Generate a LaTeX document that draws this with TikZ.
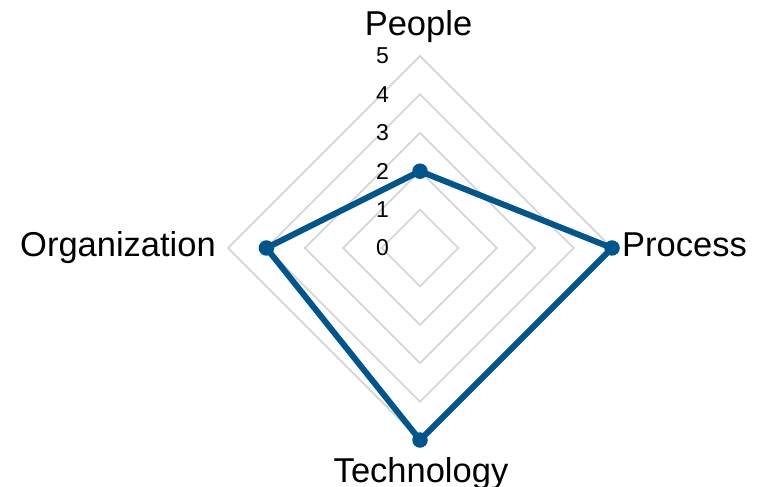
\documentclass[tikz,border=0pt]{standalone}
\usepackage{fontspec}
\setmainfont{Liberation Sans}
\usetikzlibrary{calc}
\definecolor{gridgray}{RGB}{214,214,214}
\definecolor{seriesblue}{RGB}{0,86,140}
\begin{document}
\begin{tikzpicture}[x=1bp,y=-1bp,
  gridline/.style={draw=gridgray,line width=1.8bp},
  series/.style={draw=seriesblue,line width=6bp,line join=round},
  marker/.style={circle,fill=seriesblue,inner sep=0pt,minimum size=15.5bp},
  ticklabel/.style={font=\fontsize{23bp}{26bp}\selectfont,inner sep=0pt},
  axislabel/.style={font=\fontsize{34.5bp}{40bp}\selectfont,inner sep=0pt}]
\useasboundingbox (0,0) rectangle (757,487);
\coordinate (C) at (420,248);
% grid diamonds
\foreach \k in {1,...,5}{
  \draw[gridline] ($(C)+(0,-38.4*\k)$) -- ($(C)+(38.4*\k,0)$) -- ($(C)+(0,38.4*\k)$) -- ($(C)+(-38.4*\k,0)$) -- cycle;
}
% tick labels
\foreach \k in {0,...,5}{
  \node[ticklabel] (t\k) at ($(C)+(-37.5,-38.4*\k)$) {\k};
}
% data points
\coordinate (pPeople) at ($(C)+(0,-2*38.4)$);
\coordinate (pProcess) at ($(C)+(5*38.4,0)$);
\coordinate (pTech) at ($(C)+(0,5*38.4)$);
\coordinate (pOrg) at ($(C)+(-4*38.4,0)$);
\draw[series] (pPeople) -- (pProcess) -- (pTech) -- (pOrg) -- cycle;
\foreach \p in {pPeople,pProcess,pTech,pOrg}{
  \node[marker] (m\p) at (\p) {};
}
% axis labels
\node[axislabel,anchor=base] (lPeople) at (418.5,35.7) {People};
\node[axislabel,anchor=base west] (lProcess) at (622,257) {Process};
\node[axislabel,anchor=base] (lTech) at (421,482) {Technology};
\node[axislabel,anchor=base east] (lOrg) at (216,257) {Organization};
\end{tikzpicture}
\end{document}
